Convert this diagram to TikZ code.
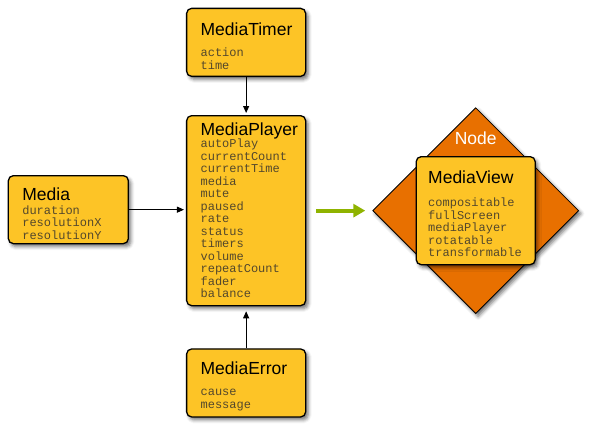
\documentclass[tikz,border=0pt]{standalone}
\usepackage{fontspec}
\setmainfont{Liberation Sans}
\newfontfamily\attrmono{Liberation Mono}
\usetikzlibrary{positioning,arrows.meta,shapes.geometric,shadows.blur}
\definecolor{clsfill}{HTML}{FDC426}
\definecolor{nodeorange}{HTML}{E87000}
\definecolor{flowgreen}{HTML}{8FB300}
\definecolor{attrgray}{HTML}{54482C}
\newcommand{\clsname}[2][0pt]{{\normalfont\fontsize{17.5pt}{20pt}\selectfont\color{black}\rule{0pt}{#1}#2}}

\begin{document}
\begin{tikzpicture}[
  font=\fontsize{17.5pt}{20pt}\selectfont,
  softshadow/.style = {blur shadow={shadow xshift=2.5pt, shadow yshift=-3pt,
                       shadow blur radius=3.5pt, shadow opacity=55}},
  clsbox/.style = {draw, line width=1.3pt, fill=clsfill, rounded corners=5pt,
                   align=left, text width=91pt, inner xsep=14pt, inner ysep=0pt,
                   text=attrgray, font=\attrmono\fontsize{12pt}{12.5pt}\selectfont,
                   softshadow},
  diamondbox/.style = {diamond, draw, line width=0.8pt, fill=nodeorange,
                       shape aspect=1, minimum size=206pt, inner sep=0pt, softshadow},
  nodelabel/.style = {inner sep=0pt, text=white},
  link/.style = {-{Triangle[length=7pt, width=6pt]}, line width=0.9pt, shorten >=2pt},
  bigflow/.style = {-{Triangle[length=12pt, width=13pt]}, line width=4pt, draw=flowgreen,
                    shorten <=10pt, shorten >=7pt},
]

% ---------- central class ----------
\node[clsbox, minimum height=190pt] (player) {\clsname{MediaPlayer}\\[-0.5pt]
  autoPlay\\ currentCount\\ currentTime\\ media\\ mute\\ paused\\ rate\\
  status\\ timers\\ volume\\ repeatCount\\ fader\\ balance};

% ---------- related classes ----------
\node[clsbox, minimum height=68pt, above=38pt of player] (timer) {\clsname[20pt]{MediaTimer}\\[8.5pt]
  action\\ time};
\node[clsbox, minimum height=68pt, below=42pt of player] (error) {\clsname[20pt]{MediaError}\\[8.5pt]
  cause\\ message};
\node[clsbox, minimum height=68pt, text width=92pt, left=57pt of player, yshift=1pt] (media) {\clsname[20pt]{Media}\\[1.5pt]
  duration\\ resolutionX\\ resolutionY};

% ---------- scene graph node ----------
\node[diamondbox, right=66pt of player] (nodeshape) {};
\node[clsbox, text width=95pt, inner xsep=12pt, minimum height=108pt] (view) at (nodeshape) {\clsname[19pt]{MediaView}\\[11pt]
  compositable\\ fullScreen\\ mediaPlayer\\ rotatable\\ transformable};
\node[nodelabel, above=11pt of view] (viewlabel) {Node};

% ---------- connectors ----------
\draw[link] (timer) -- (player);
\draw[link] (media.east) -- (media.east -| player.west);
\draw[link, shorten >=5pt] (error) -- (player);
\draw[bigflow] (player) -- (nodeshape);

\useasboundingbox ([xshift=-186pt, yshift=115pt]player.north west) rectangle ++(599pt,-432pt);
\end{tikzpicture}
\end{document}
